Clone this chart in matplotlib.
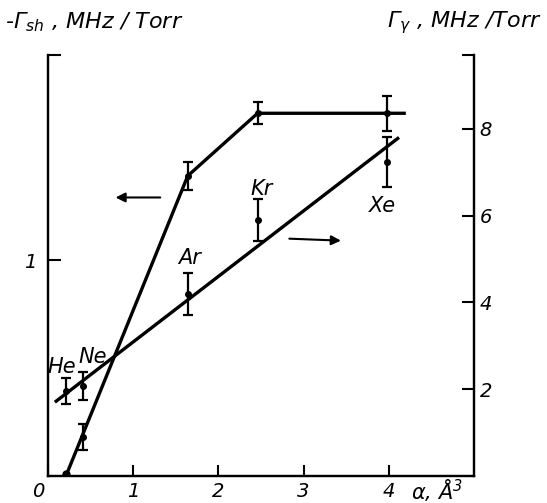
import numpy as np
import matplotlib
matplotlib.use('Agg')
import matplotlib.pyplot as plt
import matplotlib.transforms as mtransforms

plt.rcParams['font.family'] = ['DejaVu Sans']
plt.rcParams['font.style'] = 'italic'
plt.rcParams['mathtext.fontset'] = 'dejavusans'
plt.rcParams['mathtext.default'] = 'it'

# polarizability alpha, A^3
gases = ['He', 'Ne', 'Ar', 'Kr', 'Xe']
alpha = [0.21, 0.41, 1.64, 2.46, 3.98]

# shift, -Gamma_sh (left axis)
shift = [0.01, 0.18, 1.39, 1.68, 1.68]
shift_err = [0.0, 0.06, 0.065, 0.05, 0.08]
shift_line_x = [0.21, 1.64, 2.46, 4.2]
shift_line_y = [0.0, 1.39, 1.68, 1.68]

# broadening, Gamma_gamma (right axis)
broad = [1.95, 2.07, 4.2, 5.9, 7.24]
broad_err = [0.3, 0.33, 0.48, 0.48, 0.58]
broad_line_x = [0.08, 4.12]
broad_line_y = [1.7, 7.8]

fig = plt.figure(figsize=(5.47, 5.03), dpi=100)
ax = fig.add_axes([0.0878, 0.0537, 0.7787, 0.837])
ax2 = ax.twinx()

lw = 2.4
ax.plot(shift_line_x, shift_line_y, color='black', lw=lw, solid_capstyle='butt')
ax.errorbar(alpha[1:], shift[1:], yerr=shift_err[1:], fmt='o', color='black',
            ms=4, elinewidth=1.6, capsize=3.5, capthick=1.6)
ax.plot(alpha[0], shift[0], 'o', color='black', ms=5)

ax2.plot(broad_line_x, broad_line_y, color='black', lw=lw, solid_capstyle='butt')
ax2.errorbar(alpha, broad, yerr=broad_err, fmt='o', color='black',
             ms=4, elinewidth=1.6, capsize=3.5, capthick=1.6)

ax.set_xlim(0, 5)
ax.set_ylim(0, 1.95)
ax2.set_ylim(0, 9.7)

for a in (ax, ax2):
    a.spines['top'].set_visible(False)
    for s in ('left', 'right', 'bottom'):
        a.spines[s].set_linewidth(1.6)

ax.set_xticks([0, 1, 2, 3, 4])
ax.set_xticklabels(['0', '1', '2', '3', '4'])
ax.tick_params(axis='x', direction='in', length=8, width=1.5, labelsize=14, pad=4)
ax.set_yticks([1, 1.95])
ax.set_yticklabels(['1', ''])
ax.tick_params(axis='y', direction='in', length=9, width=1.5, labelsize=14, pad=8)
ax2.set_yticks([2, 4, 6, 8, 9.7])
ax2.set_yticklabels(['2', '4', '6', '8', ''])
ax2.tick_params(axis='y', direction='in', length=9, width=1.5, labelsize=14, pad=4)

# shift the "0" label a little to the left
lbl0 = ax.get_xticklabels()[0]
lbl0.set_transform(lbl0.get_transform() + mtransforms.ScaledTranslation(-10 / 100, 0, fig.dpi_scale_trans))

# gas labels (right-axis coordinates)
label_pos = {'He': (0.16, 2.5), 'Ne': (0.53, 2.74), 'Ar': (1.66, 5.03),
             'Kr': (2.51, 6.62), 'Xe': (3.92, 6.23)}
for g in gases:
    x, y = label_pos[g]
    ax2.text(x, y, g, fontsize=15, ha='center', va='center')

# arrows
ax.annotate('', xy=(0.76, 1.29), xytext=(1.35, 1.29),
            arrowprops=dict(arrowstyle='-|>', color='black', lw=1.5, mutation_scale=14))
ax2.annotate('', xy=(3.47, 5.42), xytext=(2.8, 5.47),
             arrowprops=dict(arrowstyle='-|>', color='black', lw=1.5, mutation_scale=14))

# axis titles
fig.text(0.01, 0.955, r'-$\Gamma_{sh}$ , MHz / Torr', fontsize=16, ha='left', va='center')
fig.text(0.99, 0.955, r'$\Gamma_{\gamma}$ , MHz /Torr', fontsize=16, ha='right', va='center')
ax.text(4.56, -0.068, r'$\alpha$, Å$^3$', fontsize=15, ha='center', va='center',
        transform=ax.transData, clip_on=False)

fig.savefig('out.png', dpi=100)
